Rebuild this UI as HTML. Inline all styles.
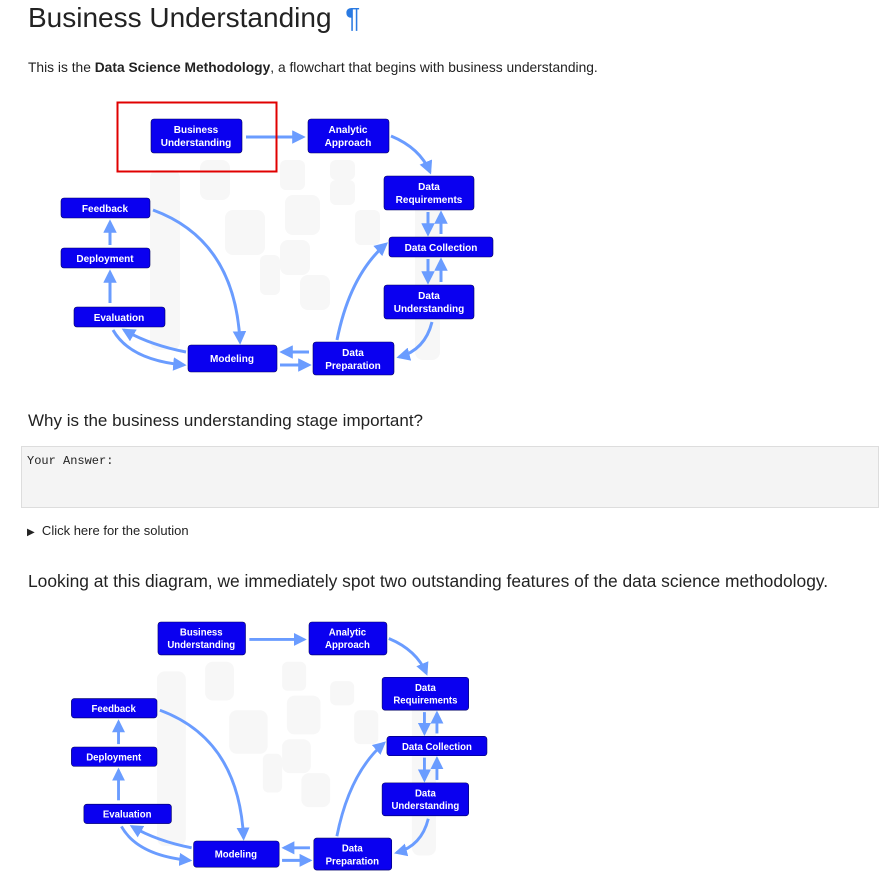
<!DOCTYPE html>
<html><head><meta charset="utf-8"><style>
body{margin:0;width:879px;height:883px;overflow:hidden;background:#fff;font-family:"Liberation Sans",sans-serif;color:#222;position:relative}
.a{position:absolute;white-space:nowrap}
svg{position:absolute;left:0;top:0}
</style></head><body>
<div class="a" style="left:28px;top:2px;font-size:28px;color:#222">Business Understanding <span style="color:#2a7ae2;margin-left:6px">¶</span></div>
<div class="a" style="left:28px;top:60px;font-size:13.8px">This is the <b>Data Science Methodology</b>, a flowchart that begins with business understanding.</div>
<div class="a" style="left:28px;top:411px;font-size:17px">Why is the business understanding stage important?</div>
<div class="a" style="left:21px;top:446px;width:858px;height:62px;background:#f4f4f4;border:1px solid #ddd;box-sizing:border-box"></div>
<div class="a" style="left:27px;top:454px;font-size:12px;font-family:'Liberation Mono',monospace">Your Answer:</div>
<div class="a" style="left:27px;top:523px;font-size:13px"><span style="font-size:10px">▶</span>&nbsp; Click here for the solution</div>
<div class="a" style="left:28px;top:571px;font-size:17.4px">Looking at this diagram, we immediately spot two outstanding features of the data science methodology.</div>
<svg width="879" height="883" viewBox="0 0 879 883">
<defs>
<marker id="ah" viewBox="0 0 10 10" refX="8" refY="5" markerWidth="4.5" markerHeight="4.5" orient="auto"><path d="M0,0 L10,5 L0,10 z" fill="#6a9cff"/></marker>
</defs>
<g id="d1">
<g fill="#f7f7f7">
<rect x="150" y="170" width="30" height="180" rx="8"/><rect x="415" y="190" width="25" height="170" rx="8"/>
<rect x="200" y="160" width="30" height="40" rx="8"/><rect x="280" y="160" width="25" height="30" rx="6"/>
<rect x="285" y="195" width="35" height="40" rx="8"/><rect x="330" y="180" width="25" height="25" rx="6"/>
<rect x="225" y="210" width="40" height="45" rx="8"/><rect x="280" y="240" width="30" height="35" rx="8"/>
<rect x="260" y="255" width="20" height="40" rx="6"/><rect x="300" y="275" width="30" height="35" rx="8"/>
<rect x="330" y="160" width="25" height="20" rx="6"/><rect x="355" y="210" width="25" height="35" rx="6"/>
</g>
<g fill="none" stroke="#6a9cff" stroke-width="3" marker-end="url(#ah)">
<path d="M246,137 L303,137"/>
<path d="M391,136 Q420,148 430,172"/>
<path d="M428,212 L428,234"/><path d="M441,234 L441,213"/>
<path d="M428,259 L428,282"/><path d="M441,282 L441,260"/>
<path d="M432,322 Q425,350 399,357"/>
<path d="M337,340 Q350,275 386,244"/>
<path d="M309,352 L282,352"/><path d="M280,365 L309,365"/>
<path d="M186,352 Q150,345 124,330"/>
<path d="M113,330 Q130,360 184,365"/>
<path d="M110,303 L110,272"/><path d="M110,245 L110,222"/>
<path d="M153,210 Q235,240 240,342"/>
</g>
<g fill="#0a00f0" stroke="#000060" stroke-width="0.6">
<rect x="151" y="119" width="91" height="34" rx="3"/>
<rect x="308" y="119" width="81" height="34" rx="3"/>
<rect x="384" y="176" width="90" height="34" rx="3"/>
<rect x="389" y="237" width="104" height="20" rx="3"/>
<rect x="384" y="285" width="90" height="34" rx="3"/>
<rect x="313" y="342" width="81" height="33" rx="3"/>
<rect x="188" y="345" width="89" height="27" rx="3"/>
<rect x="74" y="307" width="91" height="20" rx="3"/>
<rect x="61" y="248" width="89" height="20" rx="3"/>
<rect x="61" y="198" width="89" height="20" rx="3"/>
</g>
<g fill="#fff" font-size="10" font-weight="bold" text-anchor="middle" font-family="Liberation Sans,sans-serif">
<text x="196" y="133">Business</text><text x="196" y="146">Understanding</text>
<text x="348" y="133">Analytic</text><text x="348" y="146">Approach</text>
<text x="429" y="190">Data</text><text x="429" y="203">Requirements</text>
<text x="441" y="251">Data Collection</text>
<text x="429" y="299">Data</text><text x="429" y="312">Understanding</text>
<text x="353" y="356">Data</text><text x="353" y="369">Preparation</text>
<text x="232" y="362">Modeling</text>
<text x="119" y="321">Evaluation</text>
<text x="105" y="262">Deployment</text>
<text x="105" y="212">Feedback</text>
</g>
</g>
<rect x="117.5" y="102.5" width="159" height="69" fill="none" stroke="#e00000" stroke-width="2"/>
<g transform="translate(12.7,506.7) scale(0.962,0.969)">
<g fill="#f7f7f7">
<rect x="150" y="170" width="30" height="180" rx="8"/><rect x="415" y="190" width="25" height="170" rx="8"/>
<rect x="200" y="160" width="30" height="40" rx="8"/><rect x="280" y="160" width="25" height="30" rx="6"/>
<rect x="285" y="195" width="35" height="40" rx="8"/><rect x="330" y="180" width="25" height="25" rx="6"/>
<rect x="225" y="210" width="40" height="45" rx="8"/><rect x="280" y="240" width="30" height="35" rx="8"/>
<rect x="260" y="255" width="20" height="40" rx="6"/><rect x="300" y="275" width="30" height="35" rx="8"/>
<rect x="355" y="210" width="25" height="35" rx="6"/>
</g>
<g fill="none" stroke="#6a9cff" stroke-width="3" marker-end="url(#ah)">
<path d="M246,137 L303,137"/>
<path d="M391,136 Q420,148 430,172"/>
<path d="M428,212 L428,234"/><path d="M441,234 L441,213"/>
<path d="M428,259 L428,282"/><path d="M441,282 L441,260"/>
<path d="M432,322 Q425,350 399,357"/>
<path d="M337,340 Q350,275 386,244"/>
<path d="M309,352 L282,352"/><path d="M280,365 L309,365"/>
<path d="M186,352 Q150,345 124,330"/>
<path d="M113,330 Q130,360 184,365"/>
<path d="M110,303 L110,272"/><path d="M110,245 L110,222"/>
<path d="M153,210 Q235,240 240,342"/>
</g>
<g fill="#0a00f0" stroke="#000060" stroke-width="0.6">
<rect x="151" y="119" width="91" height="34" rx="3"/>
<rect x="308" y="119" width="81" height="34" rx="3"/>
<rect x="384" y="176" width="90" height="34" rx="3"/>
<rect x="389" y="237" width="104" height="20" rx="3"/>
<rect x="384" y="285" width="90" height="34" rx="3"/>
<rect x="313" y="342" width="81" height="33" rx="3"/>
<rect x="188" y="345" width="89" height="27" rx="3"/>
<rect x="74" y="307" width="91" height="20" rx="3"/>
<rect x="61" y="248" width="89" height="20" rx="3"/>
<rect x="61" y="198" width="89" height="20" rx="3"/>
</g>
<g fill="#fff" font-size="10" font-weight="bold" text-anchor="middle" font-family="Liberation Sans,sans-serif">
<text x="196" y="133">Business</text><text x="196" y="146">Understanding</text>
<text x="348" y="133">Analytic</text><text x="348" y="146">Approach</text>
<text x="429" y="190">Data</text><text x="429" y="203">Requirements</text>
<text x="441" y="251">Data Collection</text>
<text x="429" y="299">Data</text><text x="429" y="312">Understanding</text>
<text x="353" y="356">Data</text><text x="353" y="369">Preparation</text>
<text x="232" y="362">Modeling</text>
<text x="119" y="321">Evaluation</text>
<text x="105" y="262">Deployment</text>
<text x="105" y="212">Feedback</text>
</g>
</g>
</svg>
</body></html>
